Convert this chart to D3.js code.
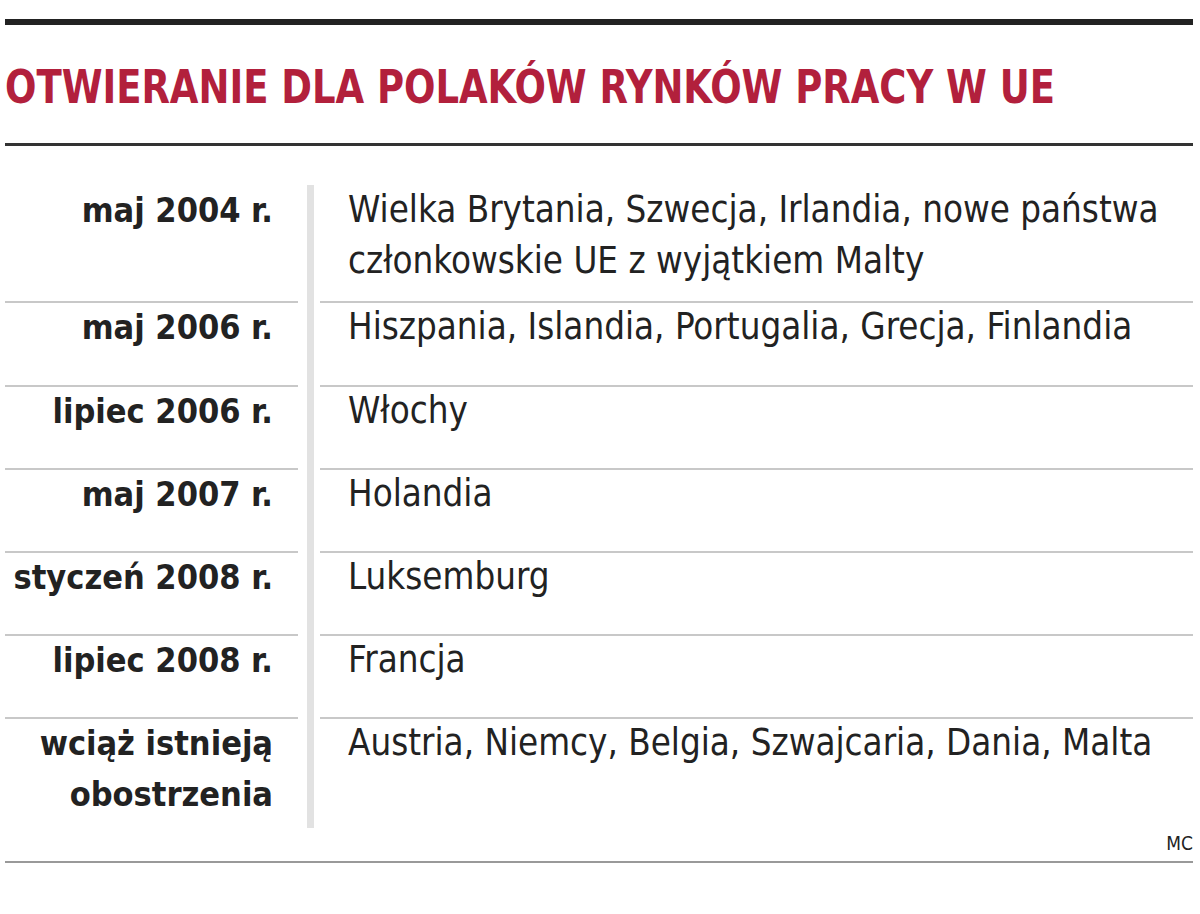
<!DOCTYPE html><html><head><meta charset="utf-8">
<script src="https://cdn.jsdelivr.net/npm/d3@7"></script>
<style>body{margin:0;background:#fff}</style></head><body>
<script>
const title = "OTWIERANIE DLA POLAKÓW RYNKÓW PRACY W UE";
const dates = [["maj 2004 r."],["maj 2006 r."],["lipiec 2006 r."],["maj 2007 r."],["styczeń 2008 r."],["lipiec 2008 r."],["wciąż istnieją","obostrzenia"]];
const countries = [["Wielka Brytania, Szwecja, Irlandia, nowe państwa","członkowskie UE z wyjątkiem Malty"],["Hiszpania, Islandia, Portugalia, Grecja, Finlandia"],["Włochy"],["Holandia"],["Luksemburg"],["Francja"],["Austria, Niemcy, Belgia, Szwajcaria, Dania, Malta"]];
const source = "MC";
const W=1200,H=914;
const svg=d3.select("body").append("svg").attr("width",W).attr("height",H);
const F="'Liberation Sans Narrow','DejaVu Sans Condensed',sans-serif";
svg.append("rect").attr("x",5).attr("y",19).attr("width",1188).attr("height",6).attr("fill","#222");
svg.append("text").attr("x",5).attr("y",103).text(title).attr("font-family",F).attr("font-weight","bold")
  .attr("font-size",46).attr("fill","#b2203c").attr("textLength",1050).attr("lengthAdjust","spacingAndGlyphs");
svg.append("rect").attr("x",5).attr("y",143).attr("width",1188).attr("height",3).attr("fill","#333");
const bounds=[185,302,386,469,552,635,718,830];
const y=d3.scaleOrdinal().domain(d3.range(7)).range(bounds.slice(0,7));
svg.append("rect").attr("x",307).attr("y",185).attr("width",7).attr("height",643).attr("fill","#e2e2e2");
bounds.slice(1,7).forEach(b=>{
  svg.append("rect").attr("x",5).attr("y",b-1).attr("width",293).attr("height",2).attr("fill","#c8c8c8");
  svg.append("rect").attr("x",320).attr("y",b-1).attr("width",873).attr("height",2).attr("fill","#c8c8c8");
});
const lh=51;
dates.forEach((d,i)=>{
  d.forEach((t,j)=>svg.append("text").attr("x",273).attr("y",y(i)+37+j*lh).attr("text-anchor","end")
    .attr("font-family",F).attr("font-weight","bold").attr("font-size",34).attr("fill","#222").text(t));
  countries[i].forEach((t,j)=>svg.append("text").attr("x",348).attr("y",y(i)+37+j*lh)
    .attr("font-family",F).attr("font-size",36.4).attr("fill","#222").text(t));
});
svg.append("text").attr("x",1193).attr("y",850).attr("text-anchor","end").attr("font-family",F).attr("font-size",19).attr("fill","#222").text(source);
svg.append("rect").attr("x",5).attr("y",861).attr("width",1188).attr("height",2).attr("fill","#999");
</script></body></html>
